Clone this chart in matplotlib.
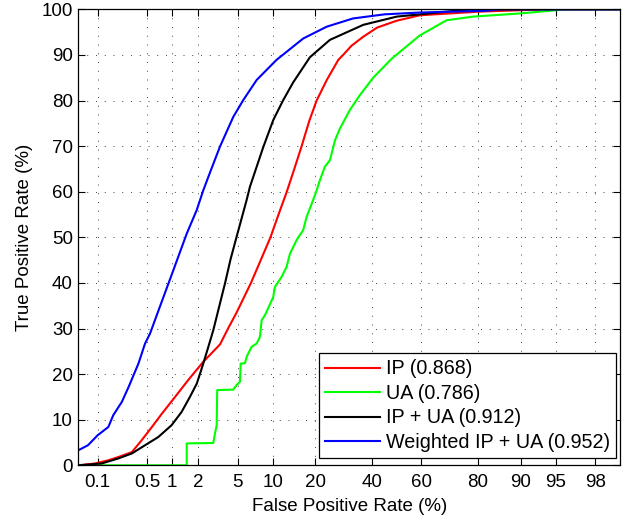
import numpy as np
import matplotlib
matplotlib.use('Agg')
import matplotlib.pyplot as plt
from matplotlib.ticker import FixedLocator, NullLocator
from statistics import NormalDist

plt.rcParams['font.family'] = ['Liberation Sans', 'DejaVu Sans']

# ROC curves, values in percent
ip_fpr = [0.05, 0.091, 0.144, 0.20, 0.31, 0.42, 0.57, 0.76, 1.10, 1.56, 2.28, 3.39, 4.07, 4.9, 6.6, 8.0,
          9.6, 11.1, 12.8, 14.5, 16.3, 18.3, 20.4, 23.5, 27.3, 29, 32, 36.5, 42, 50, 59.5, 80.5, 93.9, 98.95]
ip_tpr = [0, 0.4, 1.1, 1.8, 2.9, 5.5, 8.4, 11.3, 15, 18.7, 22.7, 26.5, 30, 33.5, 40, 45,
          50, 55, 60, 65, 70, 75.5, 80, 84.5, 88.9, 90, 92, 94, 96, 97.5, 98.7, 99.5, 100, 100]

ua_fpr = [0.05, 1.50, 1.50, 2.90, 3.02, 3.14, 3.18, 4.56, 4.9, 5.26, 5.34, 5.84, 6.05, 6.69, 7.39, 7.88,
          8.14, 8.66, 10.1, 10.4, 11.7, 12.75, 13.5, 15.05, 16.7, 17.6, 19.4, 20.4, 21.4, 22.9, 24.5,
          26.2, 27.9, 31.4, 35.2, 40.4, 48, 59.5, 69.7, 78.5, 89.9, 93.9, 95.9, 98.95]
ua_tpr = [0, 0, 4.8, 4.9, 7.0, 8.8, 16.5, 16.6, 17.6, 18.3, 22.3, 22.4, 23.8, 26.0, 26.7, 28.2,
          31.8, 32.9, 36.9, 39.1, 41.3, 43.5, 46.4, 49.4, 51.6, 54.5, 58.2, 60.3, 62.6, 65.5, 66.9,
          71.3, 73.9, 77.9, 81.2, 85, 89.2, 94.3, 97.6, 98.4, 99.1, 99.6, 100, 100]

both_fpr = [0.05, 0.115, 0.20, 0.31, 0.465, 0.687, 1.0, 1.31, 1.63, 1.94, 2.28, 2.58, 2.90, 3.39, 3.80,
            4.30, 4.90, 6.05, 6.47, 8.4, 10.1, 12.0, 14.25, 18.5, 24.5, 36.5, 50, 59.5, 77.5, 98.95]
both_tpr = [0, 0.4, 1.5, 2.6, 4.4, 6.2, 8.8, 11.7, 15, 17.9, 22.3, 26, 29.6, 35.5, 39.9,
            45.2, 50.1, 58.2, 61.1, 69.8, 75.7, 80, 84, 89.5, 93.3, 96.6, 98.4, 98.9, 100, 100]

wtd_fpr = [0.05, 0.071, 0.10, 0.144, 0.17, 0.225, 0.28, 0.38, 0.465, 0.54, 0.72, 1.05, 1.50, 1.94, 2.28,
           2.75, 3.39, 4.56, 5.64, 7.39, 10.7, 16.7, 23.5, 32.6, 45, 59.5, 82.4, 85.8, 98.95]
wtd_tpr = [3.3, 4.4, 6.6, 8.4, 11, 13.9, 17.2, 22.3, 26.7, 28.9, 34.8, 42.8, 50.8, 56, 60.3,
           64.8, 69.9, 76.4, 80.1, 84.5, 88.9, 93.6, 96.2, 98.0, 98.9, 99.3, 99.7, 100, 100]

labels = ['IP (0.868)', 'UA (0.786)', 'IP + UA (0.912)', 'Weighted IP + UA (0.952)']
colors = ['#ff0000', '#00ff00', '#000000', '#0000ff']

x_ticks = [0.1, 0.5, 1, 2, 5, 10, 20, 40, 60, 80, 90, 95, 98]
x_ticklabels = ['0.1', '0.5', '1', '2', '5', '10', '20', '40', '60', '80', '90', '95', '98']
y_ticks = list(range(0, 101, 10))

# normal deviate (probit) scale for the x axis
nd = NormalDist()
_ppf = np.vectorize(nd.inv_cdf, otypes=[float])
_cdf = np.vectorize(nd.cdf, otypes=[float])

def fwd(p):
    p = np.clip(np.asarray(p, dtype=float) / 100.0, 1e-9, 1 - 1e-9)
    return _ppf(p)

def inv(z):
    return _cdf(np.asarray(z, dtype=float)) * 100.0

fig = plt.figure(figsize=(6.26, 5.21), dpi=100)
ax = fig.add_axes([0.1251, 0.1069, 0.8653, 0.8752])
ax.set_xscale('function', functions=(fwd, inv))

curves = [(ip_fpr, ip_tpr), (ua_fpr, ua_tpr), (both_fpr, both_tpr), (wtd_fpr, wtd_tpr)]
for (fx, ty), lab, c in zip(curves, labels, colors):
    ax.plot(fx, ty, color=c, lw=1.5, label=lab)

ax.set_xlim(0.05, 98.95)
ax.set_ylim(0, 100)
ax.xaxis.set_major_locator(FixedLocator(x_ticks))
ax.xaxis.set_minor_locator(NullLocator())
ax.set_xticklabels(x_ticklabels)
ax.set_yticks(y_ticks)

ax.tick_params(direction='in', top=True, right=True, length=5, width=0.8, labelsize=13.5)
ax.tick_params(axis='x', pad=6)
ax.tick_params(axis='y', pad=4)
ax.grid(True, color='0.25', linestyle=(0, (1, 8)), lw=0.7)
for s in ax.spines.values():
    s.set_linewidth(0.9)

ax.set_xlabel('False Positive Rate (%)', fontsize=13.5, labelpad=5)
ax.set_ylabel('True Positive Rate (%)', fontsize=13.5, labelpad=6)

leg = ax.legend(loc='lower right', bbox_to_anchor=(1 - 4 / 541.7, 7 / 456), borderaxespad=0,
                fontsize=14.2, fancybox=False, framealpha=1, edgecolor='black',
                handlelength=2.75, labelspacing=0.28, handletextpad=0.3, borderpad=0.32)
leg.get_frame().set_linewidth(0.9)

fig.savefig('out.png', dpi=100)
